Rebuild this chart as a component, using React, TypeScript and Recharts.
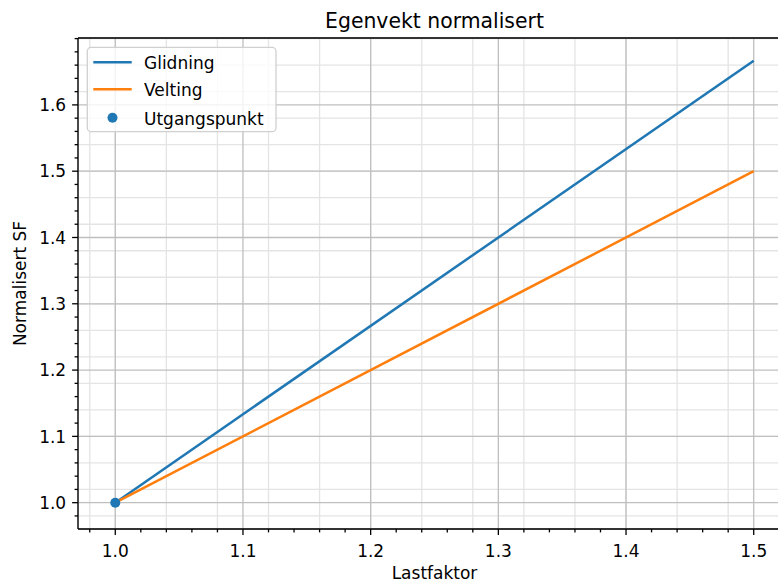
import React from 'react';
import { ComposedChart, Line, Scatter, XAxis, YAxis, CartesianGrid } from 'recharts';

// ---- data ----
const xMajorTicks = [1.0, 1.1, 1.2, 1.3, 1.4, 1.5];
const xMinorTicks = [0.98, 1.0, 1.02, 1.04, 1.06, 1.08, 1.1, 1.12, 1.14, 1.16, 1.18, 1.2, 1.22, 1.24, 1.26, 1.28, 1.3, 1.32, 1.34, 1.36, 1.38, 1.4, 1.42, 1.44, 1.46, 1.48, 1.5, 1.52];
const yMajorTicks = [1.0, 1.1, 1.2, 1.3, 1.4, 1.5, 1.6];
const yMinorTicks = [0.98, 1.0, 1.02, 1.04, 1.06, 1.08, 1.1, 1.12, 1.14, 1.16, 1.18, 1.2, 1.22, 1.24, 1.26, 1.28, 1.3, 1.32, 1.34, 1.36, 1.38, 1.4, 1.42, 1.44, 1.46, 1.48, 1.5, 1.52, 1.54, 1.56, 1.58, 1.6, 1.62, 1.64, 1.66, 1.68, 1.7];

const lastfaktor = [1.0, 1.5];
const glidning = [1.0, 1.6667];
const velting = [1.0, 1.5];
const utgangspunktX = [1.0];
const utgangspunktY = [1.0];

const seriesNames = ['Glidning', 'Velting', 'Utgangspunkt'];
const title = 'Egenvekt normalisert';
const xLabel = 'Lastfaktor';
const yLabel = 'Normalisert SF';

const glidData = lastfaktor.map((x, i) => ({ x, y: glidning[i] }));
const veltData = lastfaktor.map((x, i) => ({ x, y: velting[i] }));
const startData = utgangspunktX.map((x, i) => ({ x, y: utgangspunktY[i] }));

// ---- style ----
const X_DOMAIN: [number, number] = [0.9708, 1.5292];
const Y_DOMAIN: [number, number] = [0.9603, 1.7009];
const FONT = '"DejaVu Sans", sans-serif';
const BLUE = '#1f77b4';
const ORANGE = '#ff7f0e';
const TICK_FS = 17;
const MAJOR_LEN = 5.9;
const MINOR_LEN = 3.4;
const PAD = 5.9;

const isMajor = (v: number, list: number[]) => list.some((t) => Math.abs(t - v) < 1e-6);

const XTick = (props: any) => {
  const { x, y, payload } = props;
  const major = isMajor(payload.value, xMajorTicks);
  return (
    <g>
      <line x1={x} x2={x} y1={y} y2={y + (major ? MAJOR_LEN : MINOR_LEN)} stroke="#000" strokeWidth={1.3} />
      {major && (
        <text x={x} y={y + MAJOR_LEN + PAD + 16.5} textAnchor="middle" fontSize={TICK_FS} fontFamily={FONT} fill="#000">
          {Number(payload.value).toFixed(1)}
        </text>
      )}
    </g>
  );
};

const YTick = (props: any) => {
  const { x, y, payload } = props;
  const major = isMajor(payload.value, yMajorTicks);
  return (
    <g>
      <line x1={x} x2={x - (major ? MAJOR_LEN : MINOR_LEN)} y1={y} y2={y} stroke="#000" strokeWidth={1.3} />
      {major && (
        <text x={x - MAJOR_LEN - PAD} y={y + 6.2} textAnchor="end" fontSize={TICK_FS} fontFamily={FONT} fill="#000">
          {Number(payload.value).toFixed(1)}
        </text>
      )}
    </g>
  );
};

export default function App() {
  return (
    <div style={{ position: 'absolute', left: 0, top: 0, width: 778, height: 583, overflow: 'hidden', background: '#fff' }}>
      <ComposedChart width={800} height={583} margin={{ top: 37, right: 9, bottom: 53, left: 77 }}>
        <XAxis xAxisId="xminor" type="number" dataKey="x" domain={X_DOMAIN} ticks={xMinorTicks} allowDataOverflow hide />
        <XAxis xAxisId="xmajor" type="number" dataKey="x" domain={X_DOMAIN} ticks={xMajorTicks} allowDataOverflow hide />
        <YAxis yAxisId="yminor" type="number" dataKey="y" domain={Y_DOMAIN} ticks={yMinorTicks} allowDataOverflow hide />
        <YAxis yAxisId="ymajor" type="number" dataKey="y" domain={Y_DOMAIN} ticks={yMajorTicks} allowDataOverflow hide />
        <CartesianGrid xAxisId="xminor" yAxisId="yminor" stroke="#e4e4e4" strokeWidth={1.3} />
        <CartesianGrid xAxisId="xmajor" yAxisId="ymajor" stroke="#bfbfbf" strokeWidth={1.3} />
        <XAxis
          xAxisId="x"
          type="number"
          dataKey="x"
          domain={X_DOMAIN}
          ticks={xMinorTicks}
          interval={0}
          allowDataOverflow
          height={1}
          tickSize={0}
          tickMargin={0}
          tickLine={false}
          axisLine={{ stroke: '#000', strokeWidth: 1.3 }}
          tick={(p: any) => <XTick {...p} />}
        />
        <XAxis
          xAxisId="top"
          orientation="top"
          type="number"
          dataKey="x"
          domain={X_DOMAIN}
          allowDataOverflow
          height={1}
          tick={false}
          tickLine={false}
          axisLine={{ stroke: '#000', strokeWidth: 1.3 }}
        />
        <YAxis
          yAxisId="y"
          type="number"
          dataKey="y"
          domain={Y_DOMAIN}
          ticks={yMinorTicks}
          interval={0}
          allowDataOverflow
          width={1}
          tickSize={0}
          tickMargin={0}
          tickLine={false}
          axisLine={{ stroke: '#000', strokeWidth: 1.3 }}
          tick={(p: any) => <YTick {...p} />}
        />
        <Scatter
          xAxisId="x"
          yAxisId="y"
          data={startData}
          dataKey="y"
          fill={BLUE}
          isAnimationActive={false}
          shape={(p: any) => <circle cx={p.cx} cy={p.cy} r={5} fill={BLUE} />}
        />
        <Line xAxisId="x" yAxisId="y" data={glidData} dataKey="y" stroke={BLUE} strokeWidth={2.5} dot={false} isAnimationActive={false} />
        <Line xAxisId="x" yAxisId="y" data={veltData} dataKey="y" stroke={ORANGE} strokeWidth={2.5} dot={false} isAnimationActive={false} />
      </ComposedChart>
      <svg width={778} height={583} style={{ position: 'absolute', left: 0, top: 0, pointerEvents: 'none' }}>
        <text x={434.5} y={28} textAnchor="middle" fontSize={20.4} fontFamily={FONT} fill="#000">{title}</text>
        <text x={434.5} y={579} textAnchor="middle" fontSize={17} fontFamily={FONT} fill="#000">{xLabel}</text>
        <text x={26} y={283.5} textAnchor="middle" fontSize={17} fontFamily={FONT} fill="#000" transform="rotate(-90 26 283.5)">{yLabel}</text>
        <g>
          <rect x={87.3} y={47.3} width={188.7} height={84.4} rx={4} fill="rgba(255,255,255,0.8)" stroke="#d0d0d0" strokeWidth={1.3} />
          <line x1={93.3} x2={131.7} y1={62.3} y2={62.3} stroke={BLUE} strokeWidth={2.5} />
          <text x={144} y={69.3} fontSize={17} fontFamily={FONT} fill="#000">{seriesNames[0]}</text>
          <line x1={93.3} x2={131.7} y1={89.3} y2={89.3} stroke={ORANGE} strokeWidth={2.5} />
          <text x={144} y={96.3} fontSize={17} fontFamily={FONT} fill="#000">{seriesNames[1]}</text>
          <circle cx={112.5} cy={117.7} r={5} fill={BLUE} />
          <text x={144} y={124.7} fontSize={17} fontFamily={FONT} fill="#000">{seriesNames[2]}</text>
        </g>
      </svg>
    </div>
  );
}
